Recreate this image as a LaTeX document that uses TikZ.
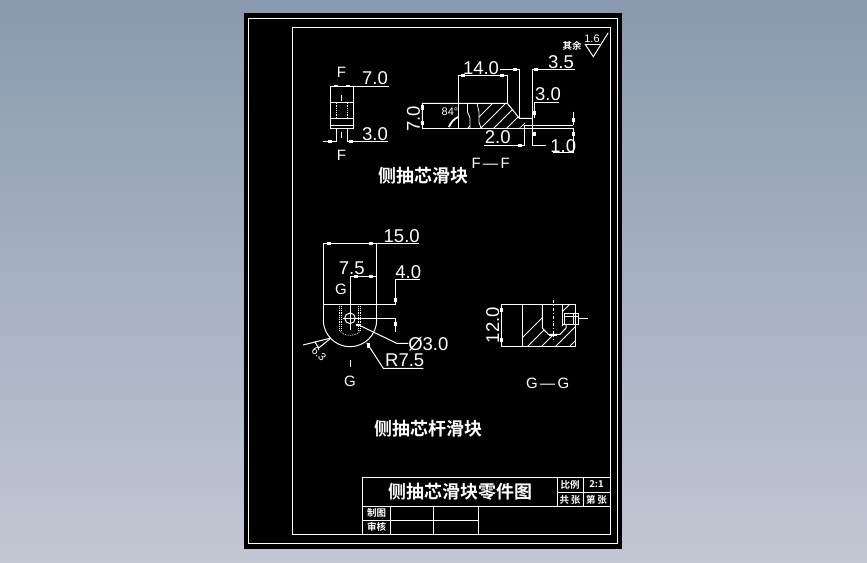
\documentclass[tikz,border=0pt]{standalone}
\usepackage{fontspec}
\setsansfont{Liberation Sans}
\newfontfamily\cjk{Noto Sans CJK SC}[BoldFont={* Bold}]
\usetikzlibrary{positioning, calc}
\definecolor{skytop}{RGB}{138,154,174}
\definecolor{skybot}{RGB}{194,199,211}
\begin{document}
\begin{tikzpicture}
		[x=1pt, y=-1pt, line width=1pt,
		 part/.style = {draw=white},
		 thin line/.style = {draw=white, line width=0.8pt},
		 tip/.style = {fill=white, rectangle, inner sep=0pt, minimum width=4.5pt, minimum height=2.8pt},
		 vtip/.style = {fill=white, rectangle, inner sep=0pt, minimum width=2.8pt, minimum height=4.5pt},
		 dim/.style = {text=white, font=\sffamily\fontsize{18.5}{18}\selectfont, inner sep=0pt},
		 small/.style = {text=white, font=\sffamily\fontsize{11}{11}\selectfont, inner sep=0pt},
		 letter/.style = {text=white, font=\sffamily\fontsize{15}{15}\selectfont, inner sep=0pt},
		 hanzi/.style = {text=white, font=\cjk\bfseries\fontsize{18}{18}\selectfont, inner sep=0pt},
		 cell/.style = {text=white, font=\cjk\bfseries\fontsize{9.5}{10}\selectfont, inner sep=0pt}]
		\useasboundingbox (0,0) rectangle (867,562);
		\shade[top color=skytop, bottom color=skybot] (0,0) rectangle (867,562);

		% sheet
		\fill[black] (244,13) rectangle (622,549);
		\draw[part] (248.5,18.5) rectangle (617.5,543.5);
		\draw[part] (292.5,27.5) rectangle (610,534);

		% title block
		\draw[part] (362.5,534) -- (362.5,477.5) -- (610,477.5);
		\draw[part] (362.5,506) -- (610,506);
		\draw[part] (362.5,520) -- (478,520);
		\draw[part] (390,506) -- (390,534);
		\draw[part] (433,506) -- (433,534);
		\draw[part] (478,506) -- (478,534);
		\draw[part] (557,477.5) -- (557,506);
		\draw[part] (583,477.5) -- (583,506);
		\draw[part] (557,492.7) -- (610,492.7);
		\node[hanzi] (title) at (460.5,491.5) {侧抽芯滑块零件图};
		\node[cell] (scale) at (570,484.5) {比例};
		\node[cell] (ratio) at (596.5,484.5) {2:1};
		\node[cell] (sheets) at (570,499.5) {共\,张};
		\node[cell] (sheet) at (596.5,499.5) {第\,张};
		\node[cell] (drawn) at (376.5,513) {制图};
		\node[cell] (check) at (376.5,527) {审核};

		% side view of the slider
		\draw[part] (330.3,86) rectangle (353.7,128.3);
		\draw[part] (330.3,102.7) -- (353.7,102.7);
		\draw[part] (330.3,118.3) -- (353.7,118.3);
		\draw[part] (330.3,125) -- (353.7,125);
		\draw[thin line, densely dotted] (336,102.7) -- (336,118.3);
		\draw[thin line, densely dotted] (347.3,102.7) -- (347.3,118.3);
		\draw[part] (341.7,95) -- (341.7,101);
		\draw[part] (341.7,132) -- (341.7,138);
		\draw[part] (353.7,86) -- (389,86);
		\draw[part] (336,128.3) -- (336,141.5) -- (323,141.5);
		\draw[part] (347.3,128.3) -- (347.3,141.5) -- (388,141.5);
		\foreach \x/\y in {336/86, 348/86, 330/141.5, 351/141.5}
			\node[tip] at (\x,\y) {};
		\node[letter] (fup) at (341.5,72) {F};
		\node[letter] (fdown) at (341.5,155) {F};
		\node[dim] (seven) at (375,78) {7.0};
		\node[dim] (three) at (375,134) {3.0};

		% section F-F
		\begin{scope}
			\clip (458.3,103.3) -- (507.3,103.3) -- (519.3,118.3) -- (525,118.3) -- (525,125) -- (519,128.3) -- (458.3,128.3) -- cycle;
			\foreach \s in {0,13,...,91}
				\draw[thin line] (466+\s,130) -- (496+\s,100);
			\fill[black] (470,102) rectangle (479,130);
		\end{scope}
		\draw[part] (422.3,128.3) -- (422.3,103.3) -- (507.3,103.3) -- (519.3,118.3) -- (532.3,118.3);
		\draw[part] (458.3,103.3) -- (458.3,75.3) -- (507.3,75.3) -- (507.3,103.3);
		\draw[part] (458.3,103.3) -- (458.3,128.3);
		\draw[thin line] (467.5,103.3) -- (467.5,112) -- (470,118) -- (470,128.3);
		\draw[thin line] (477,103.3) -- (479,112) -- (479,122) -- (481,128.3);
		\draw[part] (422.3,128.3) -- (573.3,128.3);
		\draw[part] (525,125) -- (573.3,125);
		\draw[part] (573.3,111.7) -- (573.3,125);
		\draw[part] (573.3,128.3) -- (573.3,152.7) -- (552.7,152.7);
		\draw[part] (532.3,69.3) -- (532.3,145.7) -- (545.7,145.7);
		\draw[part] (532.3,69.3) -- (575,69.3);
		\draw[part] (534.3,118.3) -- (534.3,102.7) -- (559,102.7);
		\draw[part] (500,69.3) -- (519.3,69.3) -- (519.3,118.3);
		\draw[part] (484,145.7) -- (524,145.7) -- (524,125);
		\draw[part, line width=1.8pt] (449,127) to[bend left=20] (458,117);
		\foreach \x/\y in {463/75.3, 502/75.3, 515/69.3, 536/69.3, 520/145.7}
			\node[tip] at (\x,\y) {};
		\foreach \x/\y in {422.3/107.5, 422.3/123, 534.3/113, 534.3/134, 573.3/120, 573.3/134}
			\node[vtip] at (\x,\y) {};
		\node[dim] (fourteen) at (481,67.7) {14.0};
		\node[dim] (threehalf) at (561,62) {3.5};
		\node[dim] (threeup) at (548,94) {3.0};
		\node[dim] (two) at (497.7,137.5) {2.0};
		\node[dim] (one) at (563.3,146) {1.0};
		\node[dim, rotate=90] (sevenv) at (413.5,119) {7.0};
		\node[small] (angle) at (450,112) {84°};
		\node[letter] (ffname) at (490.7,163) {F\,---\,F};

		% roughness for the rest
		\node[cell] (rest) at (572,46) {其余};
		\node[small] (rough) at (592,38.5) {1.6};
		\draw[part] (585,44) -- (600,44);
		\draw[part] (585,44) -- (593.3,56.7) -- (608.3,32.7);
		\node[hanzi] (nameone) at (423,176) {侧抽芯滑块};

		% front view of the rod slider
		\draw[part] (323.3,320) -- (323.3,243.3) -- (376.7,243.3) -- (376.7,320);
		\draw[part] (376.7,320) arc[start angle=0, end angle=180, radius=26.7];
		\draw[part] (323.3,304.3) -- (395.3,304.3) -- (395.3,279) -- (420,279);
		\draw[part] (376.7,243.3) -- (419,243.3);
		\draw[part] (350,330) -- (350,276.7) -- (376.7,276.7);
		\draw[part] (350,318.3) -- (395.3,318.3) -- (395.3,331.7);
		\draw[part] (350,318.3) circle[radius=5.3];
		\draw[part] (343,318.3) -- (357,318.3);
		\foreach \x in {339.5,341.7,358.3,360.3}
			\draw[thin line, densely dotted] (\x,304.3) -- (\x,330);
		\draw[thin line, densely dotted] (339.5,330) .. controls (342,337) and (358,337) .. (360.3,330);
		\draw[part] (356.7,324) -- (396.7,343.3) -- (408.3,343.3);
		\draw[part] (366.7,342.7) -- (383.3,368.3) -- (423.3,368.3);
		\draw[part] (350,360) -- (350,367);
		\foreach \x/\y in {329/243.3, 371/243.3, 356/276.7, 371/276.7}
			\node[tip] at (\x,\y) {};
		\foreach \x/\y in {395.3/300, 395.3/324, 368.5/345.5}
			\node[vtip] at (\x,\y) {};
		\node[tip] at (358,325) {};
		\node[dim] (fifteen) at (401.7,235.7) {15.0};
		\node[dim] (sevenhalf) at (351.7,268) {7.5};
		\node[dim] (four) at (408.3,272.3) {4.0};
		\node[dim] (bore) at (428.3,344) {Ø3.0};
		\node[dim] (radius) at (404.7,360.7) {R7.5};
		\node[letter] (gup) at (341,289.3) {G};
		\node[letter] (gdown) at (350,381) {G};

		% roughness on the arc
		\draw[part] (331,338) -- (303,345);
		\draw[part] (331,338) -- (318.7,348) -- (315,342);
		\node[small, rotate=-45] (roughtwo) at (319,354) {6.3};
		\node[hanzi] (nametwo) at (428.5,429) {侧抽芯杆滑块};

		% section G-G
		\begin{scope}
			\clip (522.3,304) rectangle (575.7,346.7);
			\foreach \s in {0,14,...,98}
				\draw[thin line] (510+\s,350) -- (560+\s,300);
			\fill[black] (542.3,304) -- (562.7,304) -- (562.7,328) -- (560,334) -- (548.3,334) -- (542.3,328) -- cycle;
			\fill[black] (564.3,313.3) rectangle (575.7,324.3);
		\end{scope}
		\draw[part] (501.3,304) rectangle (575.7,346.7);
		\draw[part] (522.3,304) -- (522.3,346.7);
		\draw[part] (542.3,304) -- (542.3,328) -- (548.3,334.3) -- (560,334.3) -- (566,328) -- (566,324.3);
		\draw[part] (562.7,304) -- (562.7,326);
		\draw[part] (564.3,313.3) rectangle (578.3,324.3);
		\draw[part] (564.3,316) -- (578.3,316);
		\draw[part] (573,313.3) -- (573,324.3);
		\draw[part] (578.3,318.3) -- (587.7,318.3);
		\draw[thin line, dash dot] (553.3,300) -- (553.3,340);
		\draw[thin line] (549,335) -- (557,335);
		\foreach \x/\y in {501.3/310, 501.3/340}
			\node[vtip] at (\x,\y) {};
		\node[dim, rotate=90] (twelve) at (492.7,325) {12.0};
		\node[letter] (ggname) at (547.7,383) {G\,---\,G};
	\end{tikzpicture}
\end{document}
